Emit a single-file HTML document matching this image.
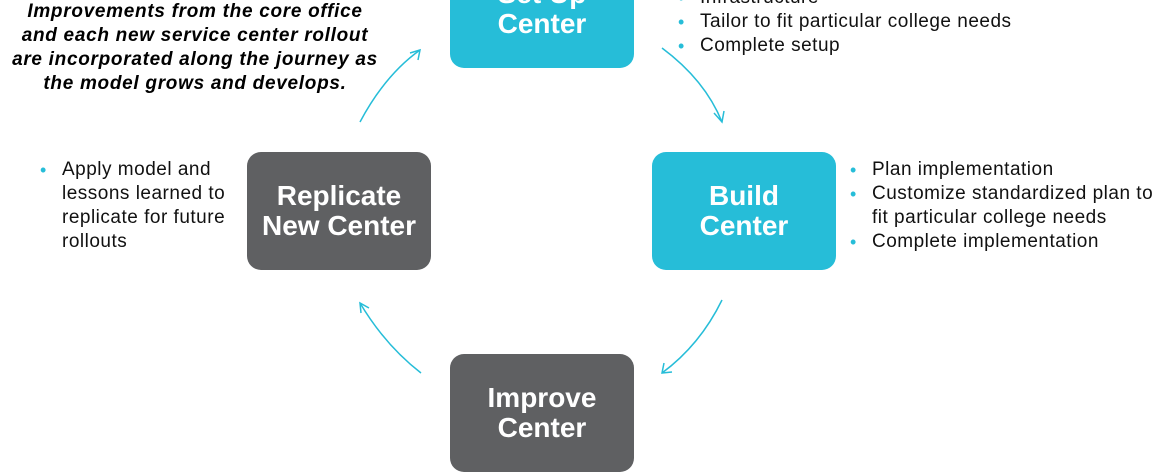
<!DOCTYPE html>
<html><head><style>
body{margin:0;width:1175px;height:460px;background:#fff;position:relative;overflow:hidden;font-family:"Liberation Sans",Arial,sans-serif}
.box{position:absolute;width:184px;height:118px;border-radius:14px;color:#fff;font-weight:bold;font-size:28px;line-height:30px;text-align:center;display:flex;align-items:center;justify-content:center}
.c{background:#26bdd8}.g{background:#5f6062}
.t{position:absolute;font-size:19px;letter-spacing:0.5px;line-height:24px;color:#111}
.t div{position:relative;padding-left:24px}
.t div:before{content:"•";position:absolute;left:2px;color:#26bdd8;font-size:18px}
.note{position:absolute;left:0;top:0px;width:390px;text-align:center;font-style:italic;font-weight:bold;font-size:19px;letter-spacing:0.7px;line-height:24px;color:#000}
</style></head><body>
<div class="box c" style="left:450px;top:-50px">Set Up<br>Center</div>
<div class="box c" style="left:652px;top:152px">Build<br>Center</div>
<div class="box g" style="left:247px;top:152px">Replicate<br>New Center</div>
<div class="box g" style="left:450px;top:354px">Improve<br>Center</div>
<div class="note">Improvements from the core office<br>and each new service center rollout<br>are incorporated along the journey as<br>the model grows and develops.</div>
<div class="t" style="left:676px;top:-14px"><div>Infrastructure</div><div>Tailor to fit particular college needs</div><div>Complete setup</div></div>
<div class="t" style="left:848px;top:158px"><div>Plan implementation</div><div>Customize standardized plan to<br>fit particular college needs</div><div>Complete implementation</div></div>
<div class="t" style="left:38px;top:158px;width:215px"><div>Apply model and<br>lessons learned to<br>replicate for future<br>rollouts</div></div>
<svg width="1175" height="460" style="position:absolute;left:0;top:0" fill="none" stroke="#26bdd8" stroke-width="1.5">
<path d="M360 122 Q385 75 420 50"/><path d="M410 53 L420 50 L418 60"/>
<path d="M662 48 Q705 80 722 122"/><path d="M714 113 L722 122 L724 111"/>
<path d="M722 300 Q700 345 662 373"/><path d="M664 363 L662 373 L672 372"/>
<path d="M421 373 Q385 345 360 303"/><path d="M361 313 L360 303 L369 308"/>
</svg>
</body></html>
